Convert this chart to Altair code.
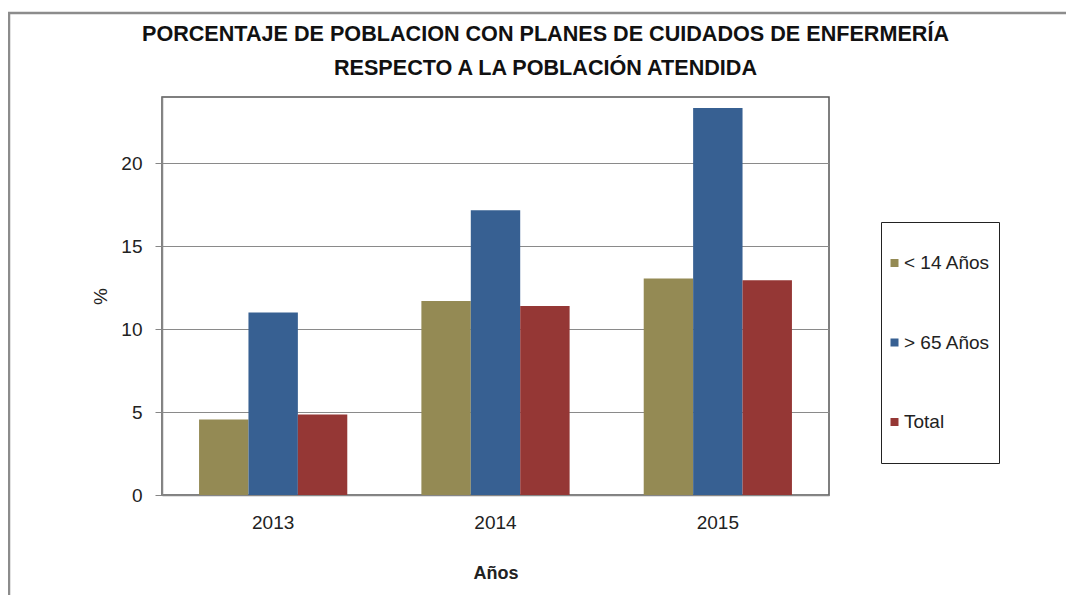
import altair as alt
import pandas as pd

years = ["2013", "2014", "2015"]
series = ["< 14 Años", "> 65 Años", "Total"]
menores_14 = [4.55, 11.7, 13.05]
mayores_65 = [11.0, 17.17, 23.33]
total = [4.85, 11.4, 12.95]
colors = ["#948A54", "#376092", "#953735"]
y_ticks = [0, 5, 10, 15, 20]
title_lines = ["PORCENTAJE DE POBLACION CON PLANES DE CUIDADOS DE ENFERMERÍA",
               "RESPECTO A LA POBLACIÓN ATENDIDA"]

rows = []
for i, yr in enumerate(years):
    for s, vals in zip(series, [menores_14, mayores_65, total]):
        rows.append({"Año": yr, "Serie": s, "Valor": vals[i]})
df = pd.DataFrame(rows)

FONT = "Liberation Sans"

bars = alt.Chart(df).mark_bar().encode(
    x=alt.X("Año:N", sort=years,
            scale=alt.Scale(paddingInner=1/3, paddingOuter=1/6),
            axis=alt.Axis(title="Años", labelAngle=0, ticks=False, labelPadding=18,
                          labelFontSize=19, labelFont=FONT, labelColor="#222",
                          titleFontSize=18, titleFont=FONT, titleFontWeight="bold",
                          titleColor="#222", titlePadding=32,
                          domainColor="#868686", domainWidth=1.5)),
    xOffset=alt.XOffset("Serie:N", sort=series,
                        scale=alt.Scale(paddingInner=0, paddingOuter=0)),
    y=alt.Y("Valor:Q", scale=alt.Scale(domain=[0, 24], nice=False),
            axis=alt.Axis(title="%", values=y_ticks, tickSize=7, tickColor="#868686",
                          labelPadding=13, labelFontSize=19, labelFont=FONT,
                          labelColor="#222", titleFontSize=19, titleFont=FONT,
                          titleFontWeight="normal", titleColor="#222", titlePadding=10,
                          grid=True, gridColor="#8a8a8a", gridWidth=1,
                          domainColor="#868686", domainWidth=1.5)),
    color=alt.Color("Serie:N", sort=series,
                    scale=alt.Scale(domain=series, range=colors),
                    legend=alt.Legend(orient="none", legendX=719, legendY=125,
                                      title=None, padding=8, strokeColor="#222",
                                      fillColor="white",
                                      symbolType="square", symbolSize=64,
                                      symbolStrokeWidth=0, symbolOffset=-4,
                                      labelFontSize=19, labelFont=FONT,
                                      labelColor="#222", labelOffset=0,
                                      clipHeight=66, rowPadding=13.5)),
)

frame = alt.Chart(alt.Data(values=[{}])).mark_rect(
    fill=None, stroke="#8c8c8c", strokeWidth=2.5
).encode(
    x=alt.value(-153), x2=alt.value(906), y=alt.value(-84), y2=alt.value(560)
)

chart = alt.layer(frame, bars).properties(
    width=667, height=398,
    title=alt.TitleParams(text=title_lines, anchor="middle", dx=50, dy=68, offset=0,
                          fontSize=21.6, font=FONT, fontWeight="bold", color="#111",
                          lineHeight=34),
    autosize=alt.AutoSizeParams(type="none"),
    padding={"left": 154, "top": 89, "right": 237, "bottom": 100},
).configure_view(stroke="#555", strokeWidth=1.5)

chart.save("out.html", embed_options={"renderer": "svg", "actions": False})
